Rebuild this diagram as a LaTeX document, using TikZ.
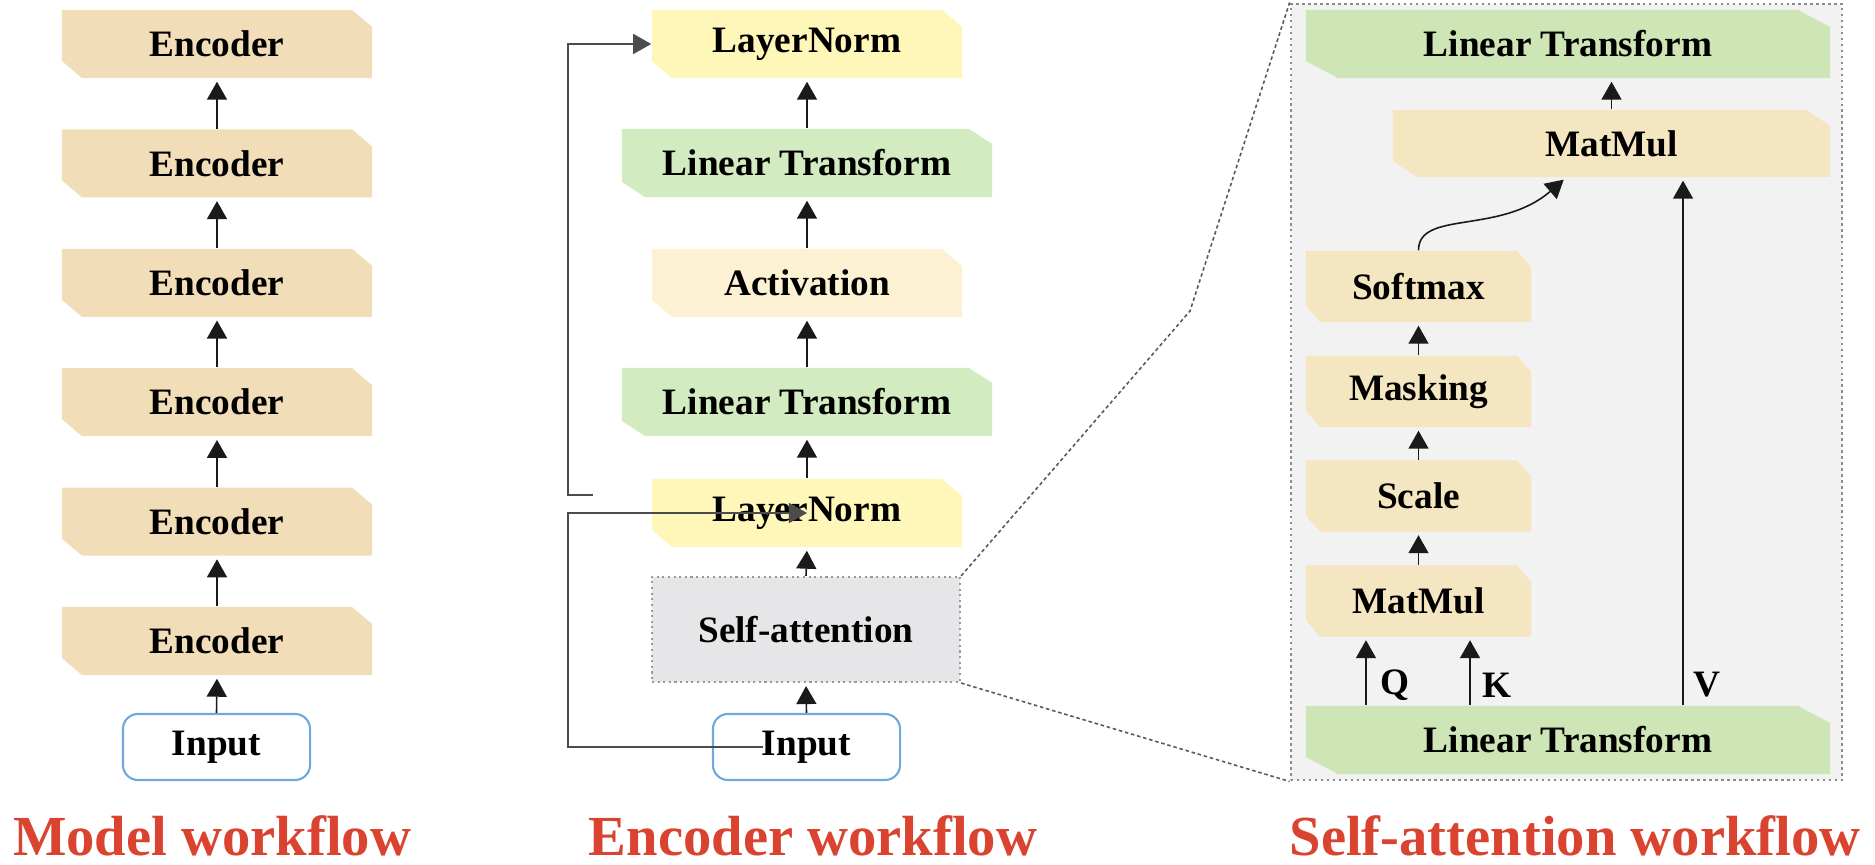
\documentclass[tikz,border=0pt]{standalone}
\usepackage{fontspec}
\setmainfont{Liberation Serif}
\usetikzlibrary{arrows.meta}

\definecolor{encfill}{HTML}{F1DDB8}
\definecolor{normfill}{HTML}{FFF7B9}
\definecolor{linfill}{HTML}{D3EBC0}
\definecolor{linfillR}{HTML}{CEE6B5}
\definecolor{actfill}{HTML}{FCF1D3}
\definecolor{opfill}{HTML}{F4E6C0}
\definecolor{attnfill}{HTML}{E6E6E8}
\definecolor{panelfill}{HTML}{F2F2F2}
\definecolor{inedge}{HTML}{6FA8DC}
\definecolor{titlered}{HTML}{D9432F}
\definecolor{wire}{HTML}{1A1A1A}

\newlength\cutw
\newlength\cuth
\newcommand\boxfont{\bfseries\fontsize{10.6}{12}\selectfont}

\tikzset{
  cutsize/.code 2 args={\setlength\cutw{#1}\setlength\cuth{#2}},
  blk/.style={inner sep=0pt, minimum height=0.68cm, cutsize={0.2cm}{0.17cm},
    font=\boxfont,
    path picture={\fill[#1]
      ([xshift=\cutw]path picture bounding box.south west) --
      (path picture bounding box.south east) --
      ([yshift=-\cuth]path picture bounding box.north east) --
      ([xshift=-\cutw]path picture bounding box.north east) --
      (path picture bounding box.north west) --
      ([yshift=\cuth]path picture bounding box.south west) -- cycle;}},
  inbox/.style={draw=inedge, line width=0.6pt, fill=white, rounded corners=0.15cm,
    minimum width=1.87cm, minimum height=0.66cm, inner sep=0pt, font=\boxfont},
  attnbox/.style={draw=black!40, densely dotted, line width=0.6pt, fill=attnfill,
    minimum width=3.08cm, minimum height=1.05cm, inner sep=0pt, font=\boxfont},
  panel/.style={draw=black!45, densely dotted, line width=0.7pt, fill=panelfill,
    minimum width=5.51cm, minimum height=7.76cm, inner sep=0pt},
  arr/.style={draw=wire, line width=0.45pt,
    -{Triangle[width=0.2cm,length=0.18cm]}, shorten >=0.03cm},
  skiparr/.style={draw=black!70, line width=0.45pt,
    -{Triangle[width=0.2cm,length=0.18cm]}},
  zoomline/.style={draw=black!65, line width=0.45pt, dash pattern=on 1pt off 0.8pt},
  lbl/.style={font=\boxfont, inner sep=0pt},
  ttl/.style={font=\bfseries\fontsize{16.1}{18}\selectfont, text=titlered, inner sep=0pt}
}

\begin{document}
\begin{tikzpicture}[x=0.01cm, y=-0.01cm]
\useasboundingbox (0,0) rectangle (1875,865);

% ---------- model workflow ----------
\node[blk=encfill, minimum width=3.1cm] (e1) at (217,44)    {Encoder};
\node[blk=encfill, minimum width=3.1cm] (e2) at (217,163.4) {Encoder};
\node[blk=encfill, minimum width=3.1cm] (e3) at (217,282.8) {Encoder};
\node[blk=encfill, minimum width=3.1cm] (e4) at (217,402.2) {Encoder};
\node[blk=encfill, minimum width=3.1cm] (e5) at (217,521.6) {Encoder};
\node[blk=encfill, minimum width=3.1cm] (e6) at (217,641)   {Encoder};
\node[inbox] (in1) at (216.5,747) {Input};

\draw[arr] (in1.north) -- (e6.south);
\draw[arr] (e6.north) -- (e5.south);
\draw[arr] (e5.north) -- (e4.south);
\draw[arr] (e4.north) -- (e3.south);
\draw[arr] (e3.north) -- (e2.south);
\draw[arr] (e2.north) -- (e1.south);

% ---------- encoder workflow ----------
\node[blk=normfill, minimum width=3.1cm] (ln1) at (807,44) {LayerNorm};
\node[blk=linfill, minimum width=3.7cm, cutsize={0.23cm}{0.15cm}] (lt1) at (807,163) {Linear Transform};
\node[blk=actfill, minimum width=3.1cm] (ac) at (807,283) {Activation};
\node[blk=linfill, minimum width=3.7cm, cutsize={0.23cm}{0.15cm}] (lt2) at (807,402) {Linear Transform};
\node[blk=normfill, minimum width=3.1cm] (ln2) at (807,513) {LayerNorm};
\node[attnbox] (sa) at (806,629.5) {Self-attention};
\node[inbox] (in2) at (806.5,747) {Input};

\draw[arr] (in2.north) -- (sa.south);
\draw[arr] (sa.north) -- (ln2.south);
\draw[arr] (ln2.north) -- (lt2.south);
\draw[arr] (lt2.north) -- (ac.south);
\draw[arr] (ac.north) -- (lt1.south);
\draw[arr] (lt1.north) -- (ln1.south);

% residual paths
\coordinate (resA) at (763,747);
\coordinate (resB) at (593,495);
\draw[skiparr] (resA) -- (568,747) |- (ln2.center);
\draw[skiparr] (resB) -- (568,495) |- (ln1.west);

% ---------- self-attention workflow ----------
\node[panel] (big) at (1566.5,392) {};

\node[blk=linfillR, minimum width=5.24cm, cutsize={0.32cm}{0.17cm}] (rlt1) at (1568,44) {Linear Transform};
\node[blk=opfill, minimum width=4.37cm, minimum height=0.67cm, cutsize={0.24cm}{0.16cm}] (mm1) at (1611.5,143.5) {MatMul};
\node[blk=opfill, minimum width=2.25cm, minimum height=0.71cm, cutsize={0.14cm}{0.16cm}] (sm) at (1418.5,286.5) {Softmax};
\node[blk=opfill, minimum width=2.25cm, minimum height=0.71cm, cutsize={0.14cm}{0.16cm}] (mk) at (1418.5,391.5) {Masking};
\node[blk=opfill, minimum width=2.25cm, minimum height=0.71cm, cutsize={0.14cm}{0.16cm}] (sc) at (1418.5,496) {Scale};
\node[blk=opfill, minimum width=2.25cm, minimum height=0.71cm, cutsize={0.14cm}{0.16cm}] (mm2) at (1418.5,601) {MatMul};
\node[blk=linfillR, minimum width=5.24cm, cutsize={0.32cm}{0.17cm}] (rlt2) at (1568,740) {Linear Transform};

\draw[arr] (mm1.north) -- (mm1.north |- rlt1.south);
\draw[arr] (sm.north) .. controls (1418.5,210) and (1500,235) .. ([xshift=-0.455cm]mm1.south);
\draw[arr] (mk.north) -- (sm.south);
\draw[arr] (sc.north) -- (mk.south);
\draw[arr] (mm2.north) -- (sc.south);

\draw[arr] ([xshift=-0.525cm]mm2.south |- rlt2.north) -- ([xshift=-0.525cm]mm2.south);
\draw[arr] ([xshift=0.515cm]mm2.south |- rlt2.north) -- ([xshift=0.515cm]mm2.south);
\draw[arr] ([xshift=0.715cm]mm1.south |- rlt2.north) -- ([xshift=0.715cm]mm1.south);

\node[lbl] (q) at (1395,685) {Q};
\node[lbl] (k) at (1497,685) {K};
\node[lbl] (v) at (1707,685) {V};

% zoom guides
\draw[zoomline] (sa.north east) -- (1190,311) -- (big.north west);
\draw[zoomline] (sa.south east) -- (big.south west);

% ---------- captions ----------
\node[ttl, anchor=base] (t1) at (212,856) {Model workflow};
\node[ttl, anchor=base] (t2) at (813,856) {Encoder workflow};
\node[ttl, anchor=base] (t3) at (1575,856) {Self-attention workflow};
\end{tikzpicture}
\end{document}
